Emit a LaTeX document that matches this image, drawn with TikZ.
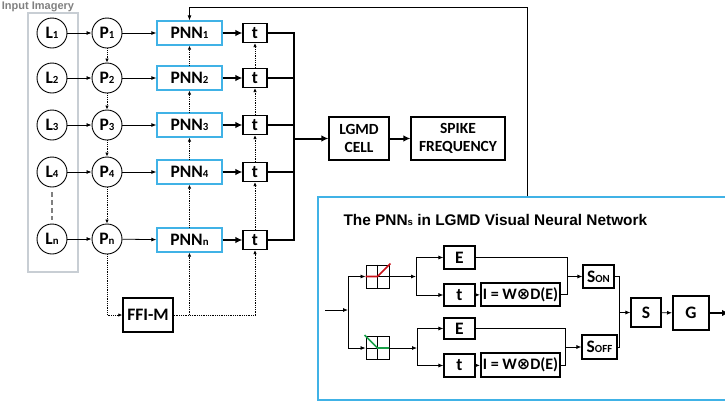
\documentclass[tikz,border=0pt]{standalone}
\usepackage{fontspec}
\setmainfont{Carlito}
\newfontfamily\arialfont{Liberation Sans}
\newfontfamily\symfont{DejaVu Sans}
\usepackage{xcolor}
\usepackage{tikz}
\usetikzlibrary{positioning,arrows.meta}

\definecolor{pnnblue}{RGB}{64,178,230}
\definecolor{framegray}{RGB}{200,206,212}
\definecolor{rampred}{RGB}{200,16,24}
\definecolor{rampgreen}{RGB}{24,160,72}
\newcommand{\idx}[1]{\scalebox{0.62}{#1}}

\begin{document}
\begin{tikzpicture}[x=1pt, y=-1pt,
  font=\fontsize{17.5}{19}\selectfont\bfseries,
  cell/.style={circle, draw, line width=0.9pt, minimum size=30pt, inner sep=0pt},
  pnn/.style={rectangle, draw=pnnblue, line width=1.3pt, minimum width=65pt, minimum height=24pt, inner sep=0pt},
  box/.style={rectangle, draw, line width=1.1pt, inner sep=0pt},
  heavybox/.style={rectangle, draw, line width=2pt, inner sep=0pt},
  ramp/.style={rectangle, draw, line width=0.9pt, minimum size=23pt, inner sep=0pt},
  link/.style={-{Latex[length=5pt,width=4pt]}, line width=0.8pt},
  heavy/.style={-{Latex[length=7pt,width=6.5pt]}, line width=2pt},
  dots/.style={densely dotted, line width=0.8pt, -{Latex[length=4pt,width=3.5pt]}}]
\useasboundingbox (0,0) rectangle (725,405);

% input column
\node[rectangle, draw=framegray, line width=1.5pt, minimum width=50pt, minimum height=259pt] (frame) at (53,142.5) {};
\node[text=gray, font=\arialfont\bfseries\fontsize{11}{12}\selectfont, anchor=base] (inlabel) at (38,9) {Input Imagery};

\node[cell] (L1) at (52,33) {L\idx{1}};
\node[cell] (L2) at (52,78) {L\idx{2}};
\node[cell] (L3) at (52,125) {L\idx{3}};
\node[cell] (L4) at (52,172) {L\idx{4}};
\node[cell] (Ln) at (52,239) {L\idx{n}};

\node[cell] (P1) at (107,33) {P\idx{1}};
\node[cell] (P2) at (107,78) {P\idx{2}};
\node[cell] (P3) at (107,125) {P\idx{3}};
\node[cell] (P4) at (107,172) {P\idx{4}};
\node[cell] (Pn) at (107,239) {P\idx{n}};

\node[pnn] (PNN1) at (189.5,33) {PNN\idx{1}};
\node[pnn] (PNN2) at (189.5,78) {PNN\idx{2}};
\node[pnn] (PNN3) at (189.5,125) {PNN\idx{3}};
\node[pnn] (PNN4) at (189.5,172) {PNN\idx{4}};
\node[pnn] (PNNn) at (189.5,240) {PNN\idx{n}};

\node[box, minimum width=24pt, minimum height=19pt] (t1) at (255,33) {t};
\node[box, minimum width=24pt, minimum height=19pt] (t2) at (255,78) {t};
\node[box, minimum width=24pt, minimum height=19pt] (t3) at (255,125) {t};
\node[box, minimum width=24pt, minimum height=19pt] (t4) at (255,172) {t};
\node[box, minimum width=24pt, minimum height=19pt] (tn) at (255,240) {t};

\node[box, line width=1.5pt, minimum width=50pt, minimum height=34pt] (ffim) at (148,315) {FFI-M};

\node[box, minimum width=60pt, minimum height=43pt, align=center, font=\fontsize{15.5}{18}\selectfont\bfseries] (lgmd) at (359,138.5) {LGMD\\CELL};
\node[box, minimum width=94pt, minimum height=43pt, align=center, font=\fontsize{15.5}{18}\selectfont\bfseries] (spike) at (458,138.5) {SPIKE\\FREQUENCY};

\coordinate (busTop) at (294,33);
\coordinate (busBot) at (294,240);
\coordinate (busMid) at (294,138.5);
\coordinate (fbTurn) at (527,7);

% connectors of the rows
\draw[link] (L1) -- (P1);
\draw[link] (L2) -- (P2);
\draw[link] (L3) -- (P3);
\draw[link] (L4) -- (P4);
\draw[link] (Ln) -- (Pn);
\draw[gray, dash pattern=on 5pt off 3pt, line width=1.6pt, shorten <=5pt, shorten >=4pt] (L4) -- (Ln);

\draw[link] (P1) -- (PNN1);
\draw[link] (P2) -- (PNN2);
\draw[link] (P3) -- (PNN3);
\draw[link] (P4) -- (PNN4);
\draw[link] (Pn) -- (PNNn);

\draw[heavy] (PNN1) -- (t1);
\draw[heavy] (PNN2) -- (t2);
\draw[heavy] (PNN3) -- (t3);
\draw[heavy] (PNN4) -- (t4);
\draw[heavy] (PNNn) -- (tn);

\draw[line width=2pt] (t1.east) -- (busTop) -- (busBot) -- (tn.east);
\draw[line width=2pt] (t2.east) -- (t2.east -| busTop);
\draw[line width=2pt] (t3.east) -- (t3.east -| busTop);
\draw[line width=2pt] (t4.east) -- (t4.east -| busTop);
\draw[heavy] (busMid) -- (lgmd);
\draw[heavy] (lgmd) -- (spike);

% lateral (dotted) paths
\draw[dots] (P1) -- (P2);
\draw[dots] (P2) -- (P3);
\draw[dots] (P3) -- (P4);
\draw[dots] (P4) -- (Pn);
\draw[dots] (Pn) |- (ffim);
\draw[densely dotted, line width=0.8pt] (ffim.east) -- (ffim.east -| tn);
\draw[dots] (ffim.east -| PNNn) -- (PNNn);
\draw[dots] (ffim.east -| tn) -- (tn);
\draw[dots] (PNNn) -- (PNN4);
\draw[dots] (PNN4) -- (PNN3);
\draw[dots] (PNN3) -- (PNN2);
\draw[dots] (PNN2) -- (PNN1);
\draw[dots] (tn) -- (t4);
\draw[dots] (t4) -- (t3);
\draw[dots] (t3) -- (t2);
\draw[dots] (t2) -- (t1);

% zoomed PNN
\node[rectangle, draw=pnnblue, line width=1.5pt, minimum width=412pt, minimum height=203pt] (inner) at (524,298.5) {};
\node[anchor=base west, font=\arialfont\bfseries\fontsize{15.4}{17}\selectfont] (title) at (340,225) {The PNN\idx{s} in LGMD Visual Neural Network};
\draw[link] (inner.north -| fbTurn) -- (fbTurn) -| (PNN1.north);

\node[ramp] (onramp) at (377.5,276.5) {};
\node[ramp] (offramp) at (377.5,348) {};
\draw[line width=0.9pt] (onramp.north) -- (onramp.south) (onramp.west) -- (onramp.east);
\draw[line width=0.9pt] (offramp.north) -- (offramp.south) (offramp.west) -- (offramp.east);
\draw[rampred, line width=1.6pt] (onramp.west) -- (onramp.center) -- ([shift={(1,-1)}]onramp.north east);
\draw[rampgreen, line width=1.6pt] ([shift={(-1,-1)}]offramp.north west) -- (offramp.center) -- (offramp.east);

\node[box, minimum width=31pt, minimum height=23pt] (eOn) at (459.5,257.5) {E};
\node[box, minimum width=31pt, minimum height=22pt] (tOn) at (459.5,295) {t};
\node[heavybox, minimum width=79pt, minimum height=23pt, font=\fontsize{16}{18}\selectfont\bfseries] (iOn) at (520.5,294.5) {I = W{\symfont\fontsize{16}{18}\selectfont ⊗}D(E)};
\node[box, minimum width=31pt, minimum height=23pt] (sOn) at (598.5,276.5) {S\idx{ON}};

\node[box, minimum width=31pt, minimum height=21pt] (eOff) at (459.5,328.5) {E};
\node[box, minimum width=31pt, minimum height=23pt] (tOff) at (459.5,365.5) {t};
\node[heavybox, minimum width=79pt, minimum height=24pt, font=\fontsize{16}{18}\selectfont\bfseries] (iOff) at (520.5,365) {I = W{\symfont\fontsize{16}{18}\selectfont ⊗}D(E)};
\node[box, minimum width=35pt, minimum height=24pt] (sOff) at (599.5,347) {S\idx{OFF}};

\node[box, minimum width=30pt, minimum height=29pt] (sBox) at (646,312.5) {S};
\node[heavybox, minimum width=36pt, minimum height=34pt] (gBox) at (691,313) {G};

\coordinate (inStart) at (325,310);
\coordinate (split) at (348,310);
\coordinate (forkOn) at (416,276.5);
\coordinate (forkOff) at (417,348);
\coordinate (joinOn) at (567,276.5);
\coordinate (joinOff) at (565,347);
\coordinate (joinS) at (619,312.5);
\coordinate (gOut) at (729,313);

\draw[link] (inStart) -- (split);
\draw[link] (split) |- (onramp);
\draw[link] (split) |- (offramp);
\draw[link] (onramp) -- (forkOn);
\draw[link] (offramp) -- (forkOff);
\draw[link] (forkOn) |- (eOn);
\draw[link] (forkOn) |- (tOn);
\draw[link] (forkOff) |- (eOff);
\draw[link] (forkOff) |- (tOff);
\draw[link] (tOn) -- (iOn);
\draw[link] (tOff) -- (iOff);
\draw[line width=0.8pt] (eOn) -| (joinOn);
\draw[line width=0.8pt] (iOn) -| (joinOn);
\draw[line width=0.8pt] (eOff) -| (joinOff);
\draw[line width=0.8pt] (iOff) -| (joinOff);
\draw[link] (joinOn) -- (sOn);
\draw[link] (joinOff) -- (sOff);
\draw[line width=0.8pt] (sOn) -| (joinS);
\draw[line width=0.8pt] (sOff) -| (joinS);
\draw[link] (joinS) -- (sBox);
\draw[link] (sBox) -- (gBox);
\draw[heavy] (gBox) -- (gOut);
\end{tikzpicture}
\end{document}
